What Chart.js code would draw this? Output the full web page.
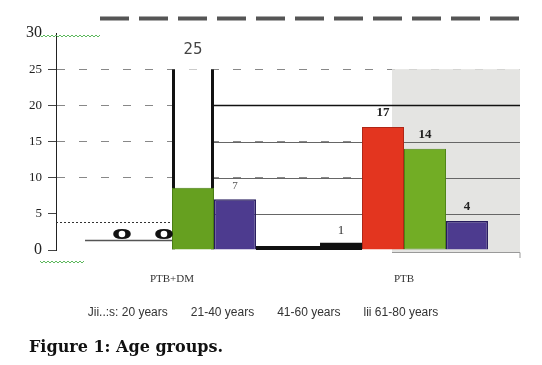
<!DOCTYPE html>
<html>
<head>
<meta charset="utf-8">
<script src="https://cdn.jsdelivr.net/npm/chart.js@4"></script>
<style>
  html, body { margin: 0; padding: 0; background: #fff; }
  #wrap { position: relative; width: 542px; height: 365px; }
  #caption { position: absolute; left: 29px; top: 337px; font: bold 16px "DejaVu Serif", serif; color: #111; }
</style>
</head>
<body>
<div id="wrap">
  <canvas id="MyChart"></canvas>
  <div id="caption">Figure 1: Age groups.</div>
</div>
<script>
const categories = ['PTB+DM', 'PTB'];
const seriesNames = ['Jii..:s: 20 years', '21-40 years', '41-60 years', 'lii 61-80 years'];
const upTo20 = [0, 1];
const age21to40 = [0, 17];
const age41to60 = [25, 14];
const age61to80 = [7, 4];
// green fill that sits inside the outlined 41-60 bar of PTB+DM
const age41to60Fill = [8.6, null];
const yTicks = [0, 5, 10, 15, 20, 25, 30];

const chartContainer = document.getElementById('MyChart');
const serif = '"Liberation Serif", serif';

function squiggle(ctx, x0, x1, yy) {
  ctx.beginPath();
  for (let px = x0, k = 0; px <= x1; px += 2, k++) {
    const py = yy + (k % 2 ? 1 : -1);
    if (k === 0) ctx.moveTo(px, py); else ctx.lineTo(px, py);
  }
  ctx.stroke();
}

// panel, rules and stray lines of the scanned figure
const extras = {
  id: 'extras',
  beforeDatasetsDraw(chart) {
    const { ctx, chartArea, scales: { x, y } } = chart;
    const outlined = chart.getDatasetMeta(4).data[0];
    const purple = chart.getDatasetMeta(3).data[0];
    const red = chart.getDatasetMeta(1).data[1];
    const first = chart.getDatasetMeta(0).data[0];
    ctx.save();

    const gx = x.getPixelForValue(1) - 12;
    const gTop = y.getPixelForValue(25);
    const gBottom = y.getPixelForValue(0) + 2;
    ctx.fillStyle = '#e4e4e2';
    ctx.fillRect(gx, gTop, chartArea.right - gx, gBottom - gTop);
    ctx.strokeStyle = '#999';
    ctx.lineWidth = 1;
    ctx.beginPath();
    ctx.moveTo(gx, gBottom + 0.5); ctx.lineTo(chartArea.right, gBottom + 0.5);
    ctx.lineTo(chartArea.right, gBottom + 6);
    ctx.stroke();

    const lx = outlined.x + outlined.width / 2;
    [20, 15, 10, 5].forEach(v => {
      const py = Math.round(y.getPixelForValue(v)) + 0.5;
      ctx.strokeStyle = v === 20 ? '#111' : '#666';
      ctx.lineWidth = v === 20 ? 1.5 : 1;
      ctx.beginPath(); ctx.moveTo(lx, py); ctx.lineTo(chartArea.right, py); ctx.stroke();
    });

    // dotted rule near 4
    ctx.strokeStyle = '#333';
    ctx.setLineDash([2, 2]);
    let py = Math.round(y.getPixelForValue(3.9)) + 0.5;
    ctx.beginPath(); ctx.moveTo(chartArea.left, py); ctx.lineTo(outlined.x - outlined.width / 2 + 10, py); ctx.stroke();
    ctx.setLineDash([]);

    // line under the two zeros
    ctx.strokeStyle = '#555';
    ctx.lineWidth = 1.5;
    py = Math.round(y.getPixelForValue(1.4)) + 0.5;
    ctx.beginPath(); ctx.moveTo(first.x - first.width / 2 - 3, py); ctx.lineTo(outlined.x - outlined.width / 2 + 6, py); ctx.stroke();

    // heavy baseline between the groups
    ctx.strokeStyle = '#111';
    ctx.lineWidth = 4;
    py = y.getPixelForValue(0) - 2;
    ctx.beginPath(); ctx.moveTo(purple.x + purple.width / 2, py); ctx.lineTo(red.x - red.width / 2, py); ctx.stroke();
    ctx.restore();
  },
  afterDatasetsDraw(chart) {
    const { ctx, scales: { y } } = chart;
    ctx.save();
    ctx.textAlign = 'center';
    ctx.textBaseline = 'middle';
    [0, 1, 3, 4].forEach(d => {
      const ds = chart.data.datasets[d];
      chart.getDatasetMeta(d).data.forEach((el, i) => {
        const v = ds.data[i];
        if (i === 0 && v === 0) {
          ctx.save();
          ctx.translate(el.x + 13, y.getPixelForValue(2));
          ctx.scale(2.1, 1);
          ctx.font = 'bold 14px "DejaVu Sans"';
          ctx.fillStyle = '#111';
          ctx.fillText(String(v), 0, 0);
          ctx.restore();
        } else if (i === 0 && d === 4) {
          ctx.font = '15px "DejaVu Sans"';
          ctx.fillStyle = '#444';
          ctx.fillText(String(v), el.x, el.y - 19);
        } else if (i === 0) {
          ctx.font = '11px ' + serif;
          ctx.fillStyle = '#555';
          ctx.fillText(String(v), el.x, el.y - 13);
        } else if (d === 0) {
          ctx.font = '13px ' + serif;
          ctx.fillStyle = '#333';
          ctx.fillText(String(v), el.x, el.y - 12);
        } else {
          ctx.font = 'bold 13px ' + serif;
          ctx.fillStyle = '#222';
          ctx.fillText(String(v), el.x, el.y - 14);
        }
      });
    });
    ctx.restore();
  },
  afterDraw(chart) {
    const { ctx, chartArea, scales: { y } } = chart;
    ctx.save();
    ctx.strokeStyle = '#555';
    ctx.lineWidth = 4;
    ctx.setLineDash([29, 10]);
    const ty = y.getPixelForValue(32);
    ctx.beginPath(); ctx.moveTo(chartArea.left + 44, ty); ctx.lineTo(chartArea.right, ty); ctx.stroke();
    ctx.setLineDash([]);
    ctx.strokeStyle = '#5cb85c';
    ctx.lineWidth = 1;
    squiggle(ctx, 40, 100, y.getPixelForValue(30) + 3);
    squiggle(ctx, 40, 85, y.getPixelForValue(0) + 12);
    ctx.restore();
  }
};

new Chart(chartContainer, {
  type: 'bar',
  data: {
    labels: categories,
    datasets: [
      { label: seriesNames[0], rank: 0, data: upTo20, stack: 's1',
        backgroundColor: '#111', borderWidth: 0 },
      { label: seriesNames[1], rank: 1, data: age21to40, stack: 's2',
        backgroundColor: '#e3351f', borderColor: '#b02616', borderWidth: 1 },
      { data: age41to60Fill, stack: 's3',
        backgroundColor: '#66a020', borderColor: '#4a7d14', borderWidth: 1 },
      { label: seriesNames[3], rank: 3, data: age61to80, stack: 's4',
        backgroundColor: '#4d3b8f', borderColor: '#261b5c', borderWidth: 1.5 },
      { label: seriesNames[2], rank: 2, data: age41to60, stack: 's3',
        backgroundColor: ['#ffffff', '#72ad25'],
        borderColor: ['#111', '#4e8516'],
        borderWidth: c => c.dataIndex === 0 ? { left: 3, right: 3, top: 0, bottom: 0 } : 1,
        borderSkipped: false }
    ]
  },
  options: {
    responsive: true,
    maintainAspectRatio: false,
    animation: false,
    categoryPercentage: 0.724,
    barPercentage: 1,
    layout: { padding: { top: 33, right: 22, bottom: 36, left: 0 } },
    scales: {
      x: {
        grid: { display: false },
        border: { display: false },
        ticks: { font: { family: serif, size: 11 }, color: '#333', padding: 15 },
        afterFit: s => { s.height = 40; }
      },
      y: {
        stacked: false,
        min: 0,
        max: 30,
        afterBuildTicks: s => { s.ticks = yTicks.map(v => ({ value: v })); },
        afterFit: s => { s.width = 56; },
        grid: {
          color: c => [0, 5, 30].includes(c.tick.value) ? 'rgba(0,0,0,0)' : '#888',
          tickColor: c => c.tick.value === 30 ? 'rgba(0,0,0,0)' : '#444',
          tickLength: 8
        },
        border: { color: '#222', width: 1, dash: [8, 14] },
        ticks: {
          padding: 6,
          color: '#222',
          font: c => ({ family: serif, size: (c.tick && (c.tick.value === 30 || c.tick.value === 0)) ? 16 : 13 })
        }
      }
    },
    plugins: {
      tooltip: { enabled: false },
      legend: {
        position: 'bottom',
        labels: {
          boxWidth: 0,
          boxHeight: 12,
          padding: 17,
          color: '#333',
          font: { family: '"Liberation Sans", sans-serif', size: 12 },
          generateLabels: chart => chart.data.datasets.map((ds, i) => ({
            text: ds.label, datasetIndex: i, hidden: false,
            fillStyle: 'rgba(0,0,0,0)', strokeStyle: 'rgba(0,0,0,0)', lineWidth: 0, fontColor: '#333'
          })).filter(it => it.text),
          sort: (a, b, data) => data.datasets[a.datasetIndex].rank - data.datasets[b.datasetIndex].rank
        }
      }
    }
  },
  plugins: [extras]
});
</script>
</body>
</html>
